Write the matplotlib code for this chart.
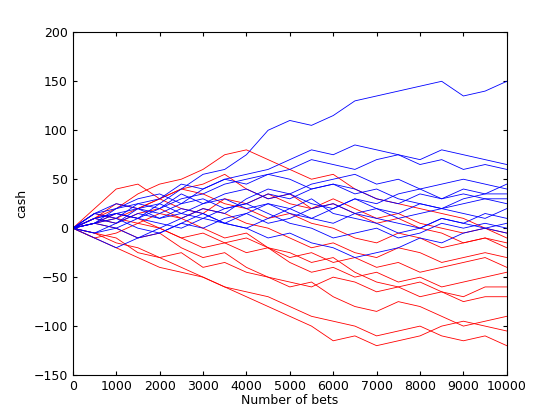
import matplotlib
matplotlib.use("Agg")
import matplotlib.pyplot as plt

bets = list(range(0, 10001, 500))

blue_walks = [
    [0, 10, 15, 10, 25, 40, 55, 60, 75, 100, 110, 105, 115, 130, 135, 140, 145, 150, 135, 140, 150],
    [0, 15, 20, 25, 30, 45, 40, 50, 55, 60, 70, 80, 75, 85, 80, 75, 70, 80, 75, 70, 65],
    [0, 5, 15, 10, 20, 30, 35, 45, 50, 55, 60, 70, 65, 60, 70, 75, 65, 70, 60, 65, 60],
    [0, -10, -20, -10, 0, 10, 20, 15, 30, 40, 35, 45, 50, 55, 45, 50, 40, 45, 50, 45, 40],
    [0, 10, 5, 20, 15, 25, 30, 20, 25, 35, 30, 40, 45, 40, 30, 25, 35, 30, 40, 35, 35],
    [0, 15, 25, 20, 10, 15, 25, 35, 40, 30, 35, 25, 20, 30, 20, 15, 25, 20, 25, 30, 30],
    [0, 5, 0, -10, -5, 5, 0, 10, 15, 5, 10, 20, 25, 15, 20, 10, 15, 20, 15, 10, 20],
    [0, -5, 0, 10, 5, 0, 10, 5, 0, 10, 20, 10, 5, 15, 10, 5, 0, 10, 5, 15, 10],
    [0, 10, 15, 20, 25, 15, 10, 20, 25, 15, 5, 0, -10, -5, 0, -10, -5, 5, 0, 5, 0],
    [0, 5, 10, 0, -5, 5, 15, 5, 0, -10, -5, -15, -20, -30, -25, -20, -10, -15, -5, 0, -5],
    [0, 15, 10, 25, 20, 35, 25, 30, 20, 25, 15, 10, 20, 30, 25, 35, 40, 30, 35, 30, 25],
    [0, 5, 20, 30, 35, 25, 40, 50, 45, 55, 50, 40, 45, 35, 40, 30, 25, 20, 30, 35, 45],
    [0, -5, 5, 15, 10, 20, 15, 5, 15, 25, 20, 30, 15, 10, 5, -5, 0, 10, 5, 0, 5],
]

red_walks = [
    [0, 10, 20, 35, 45, 50, 60, 75, 80, 70, 60, 50, 55, 40, 30, 25, 20, 15, 10, 0, -10],
    [0, 20, 40, 45, 30, 40, 35, 25, 20, 10, 15, 5, 0, -10, -15, -5, -10, -20, -15, -10, -20],
    [0, 5, 15, 10, 0, -10, -5, -15, -10, -20, -30, -25, -35, -30, -40, -35, -45, -40, -35, -30, -40],
    [0, -5, -15, -20, -30, -25, -40, -35, -45, -50, -55, -60, -50, -55, -65, -60, -55, -65, -70, -60, -60],
    [0, -10, -20, -30, -40, -45, -50, -60, -65, -70, -80, -90, -95, -100, -110, -105, -100, -110, -115, -110, -120],
    [0, -5, -10, -25, -30, -40, -50, -60, -70, -80, -90, -100, -115, -110, -120, -115, -110, -100, -95, -100, -105],
    [0, 5, 0, -10, -5, -20, -30, -25, -40, -50, -60, -55, -70, -80, -85, -75, -80, -90, -100, -95, -90],
    [0, 10, 5, 15, 20, 10, 0, -10, -5, -20, -25, -35, -30, -45, -55, -60, -70, -65, -75, -70, -70],
    [0, 10, 25, 20, 30, 20, 15, 30, 25, 35, 25, 20, 30, 20, 10, 15, 5, 0, -5, 0, -5],
    [0, 15, 10, 5, 15, 10, 20, 15, 5, 0, -10, -20, -15, -25, -30, -20, -25, -35, -30, -25, -30],
    [0, -10, -5, 5, 0, -10, -20, -15, -25, -20, -35, -45, -40, -50, -45, -55, -50, -60, -55, -50, -45],
    [0, 5, 10, 20, 30, 40, 45, 55, 40, 30, 35, 20, 25, 15, 5, 10, 0, -5, -15, -10, -15],
]

fig = plt.figure(figsize=(5.6, 4.2), dpi=100)
ax = fig.add_axes([0.13, 0.107, 0.775, 0.816])
for w in red_walks:
    ax.plot(bets, w, color="#ff0000", lw=0.6)
for w in blue_walks:
    ax.plot(bets, w, color="#0000ff", lw=0.6)
ax.set_xlim(0, 10000)
ax.set_ylim(-150, 200)
ax.set_xticks(range(0, 10001, 1000))
ax.set_yticks(range(-150, 201, 50))
ax.tick_params(direction="in", top=True, right=True, labelsize=9, length=3)
ax.set_xlabel("Number of bets", fontsize=9, labelpad=1)
ax.set_ylabel("cash", fontsize=9)
fig.savefig("out.png")
